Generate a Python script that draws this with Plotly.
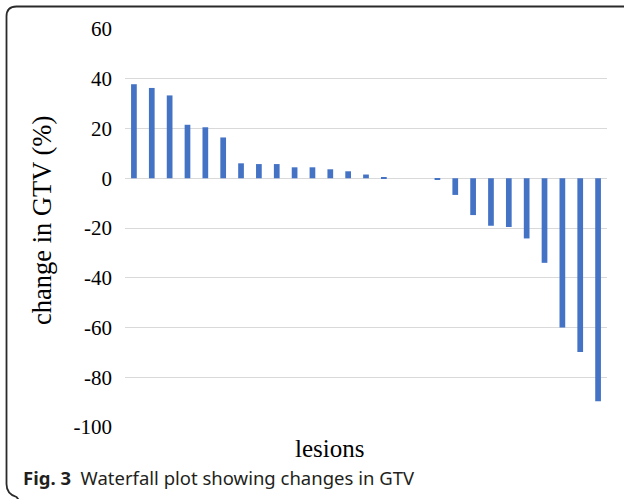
import plotly.graph_objects as go

# ---- data ----
lesions = [f"L{i}" for i in range(1, 28)]
change_gtv = [37.8, 36.3, 33.3, 21.5, 20.5, 16.4, 6.0, 5.7, 5.7, 4.4, 4.4, 3.6, 2.8,
              1.5, 0.4, 0.0, 0.0, -0.5, -6.7, -14.8, -19.1, -19.6, -24.2, -34.0,
              -60.0, -69.8, -89.6]
y_tick_vals = [60, 40, 20, 0, -20, -40, -60, -80, -100]
y_tick_text = ["60", "40", "20", "0", "-20", "-40", "-60", "-80", "-100"]

W, H = 624, 499
L, R, T, B = 125, 17, 29, 72
PW, PH = W - L - R, H - T - B


def px(x):
    return (x - L) / PW


def py(y):
    return (H - B - y) / PH


serif = "Liberation Serif, Times New Roman, serif"

fig = go.Figure(go.Bar(
    x=lesions, y=change_gtv,
    marker=dict(color="#4472C4", line=dict(width=0)),
))

fig.update_layout(
    width=W, height=H,
    margin=dict(l=L, r=R, t=T, b=B),
    paper_bgcolor="white", plot_bgcolor="white",
    bargap=0.68,
    showlegend=False,
    xaxis=dict(showticklabels=False, showgrid=False, zeroline=False,
               showline=False, ticks=""),
    yaxis=dict(range=[-100, 60], tickvals=y_tick_vals, ticktext=y_tick_text,
               showgrid=True, gridcolor="#d9d9d9", gridwidth=1,
               zeroline=False, showline=False, ticks="",
               ticklabelstandoff=12,
               tickfont=dict(family=serif, size=21, color="black")),
)

# axis titles
fig.add_annotation(x=px(42), y=py(221), xref="paper", yref="paper",
                   text="change in GTV (%)", textangle=-90, showarrow=False,
                   xanchor="center", yanchor="middle",
                   font=dict(family=serif, size=26.5, color="black"))
fig.add_annotation(x=px(329), y=py(449), xref="paper", yref="paper",
                   text="lesions", showarrow=False,
                   xanchor="center", yanchor="middle",
                   font=dict(family=serif, size=25, color="black"))

# caption
fig.add_annotation(x=px(21), y=py(477), xref="paper", yref="paper",
                   text="<b>Fig. 3</b>  Waterfall plot showing changes in GTV",
                   showarrow=False, xanchor="left", yanchor="middle",
                   font=dict(family="Noto Sans, Open Sans, sans-serif", size=18.5,
                             color="#231f20"))

# rounded frame (left/top, cropped on right and bottom)
r = 10
x0, y0, y1 = 6.5, 6.5, 494
path = (f"M {px(640)},{py(y0)} L {px(x0 + r)},{py(y0)} "
        f"Q {px(x0)},{py(y0)} {px(x0)},{py(y0 + r)} "
        f"L {px(x0)},{py(y1 - r)} "
        f"Q {px(x0)},{py(y1)} {px(x0 + r)},{py(y1 + 3)} "
        f"L {px(x0 + 2 * r)},{py(510)}")
fig.add_shape(type="path", path=path, xref="paper", yref="paper",
              line=dict(color="#2a2a2a", width=1.8))

fig.write_html("out.html",
               config={"displayModeBar": False},
               post_script="document.body.style.margin='0';"
                           "document.body.style.overflow='hidden';")
